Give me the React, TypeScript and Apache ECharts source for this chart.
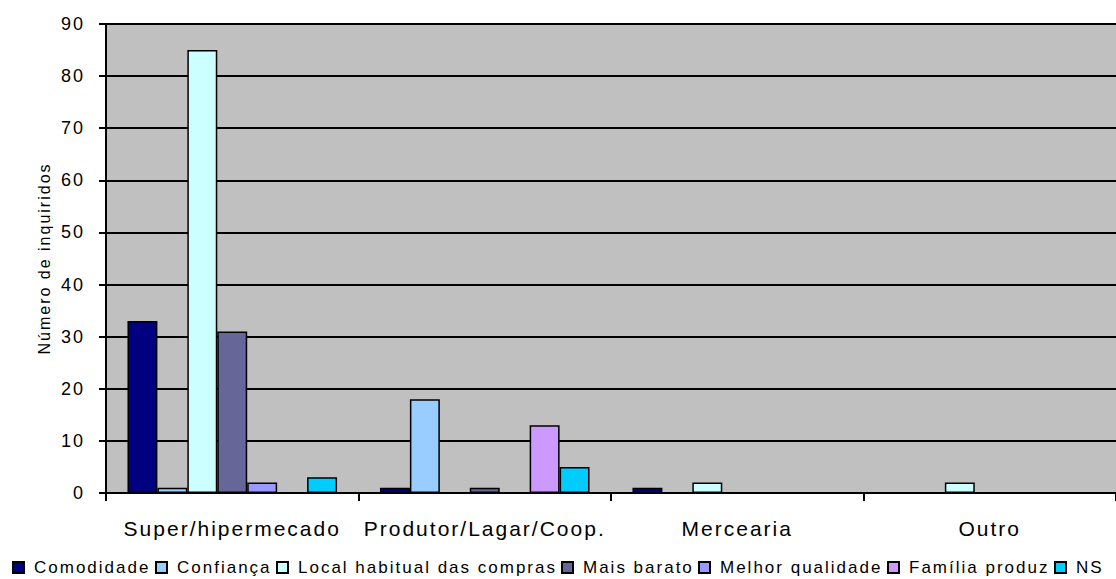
import React, { useEffect, useRef } from "react";
import * as echarts from "echarts";

const categories = ["Super/hipermecado", "Produtor/Lagar/Coop.", "Mercearia", "Outro"];
const seriesNames = ["Comodidade", "Confiança", "Local habitual das compras", "Mais barato", "Melhor qualidade", "Família produz", "NS"];
const comodidade = [33, 1, 1, 0];
const confianca = [1, 18, 0, 0];
const localHabitual = [85, 0, 2, 2];
const maisBarato = [31, 1, 0, 0];
const melhorQualidade = [2, 0, 0, 0];
const familiaProduz = [0, 13, 0, 0];
const ns = [3, 5, 0, 0];
const yTicks = [0, 10, 20, 30, 40, 50, 60, 70, 80, 90];

const seriesData = [comodidade, confianca, localHabitual, maisBarato, melhorQualidade, familiaProduz, ns];
const colors = ["#000080", "#99CCFF", "#CCFFFF", "#666699", "#9999FF", "#CC99FF", "#00CCFF"];

const LETTER_SPACING = 2;
const LEGEND_FONT_SIZE = 17;
const FONT = "'Liberation Sans', Arial, sans-serif";

function measure(text: string, size: number): number {
  const c = document.createElement("canvas").getContext("2d");
  if (!c) return text.length * size * 0.5;
  c.font = `${size}px ${FONT}`;
  return c.measureText(text).width;
}

export default function App() {
  const ref = useRef<HTMLDivElement>(null);
  useEffect(() => {
    if (!ref.current) return;
    const chart = echarts.init(ref.current, undefined, { renderer: "svg" });
    const rich: Record<string, any> = {};
    seriesNames.forEach((name, i) => {
      rich["s" + i] = {
        width: Math.ceil(measure(name, LEGEND_FONT_SIZE) + LETTER_SPACING * name.length),
        fontSize: LEGEND_FONT_SIZE,
        lineHeight: 18,
        fontFamily: FONT,
        color: "#000",
        padding: [0, 0, 0, 5],
      };
    });
    chart.setOption({
      animation: false,
      textStyle: { fontFamily: FONT },
      grid: {
        left: 106,
        right: 0,
        top: 24,
        bottom: 86,
        show: true,
        backgroundColor: "#C0C0C0",
        borderWidth: 0,
      },
      legend: {
        top: 559,
        left: 12,
        padding: 0,
        itemWidth: 11,
        itemHeight: 11,
        itemGap: 4,
        icon: "rect",
        formatter: (name: string) => `{s${seriesNames.indexOf(name)}|${name}}`,
        textStyle: { fontSize: LEGEND_FONT_SIZE, color: "#000", fontFamily: FONT, rich },
        data: seriesNames,
      },
      xAxis: {
        type: "category",
        data: categories,
        axisLine: { lineStyle: { color: "#000", width: 2 } },
        axisTick: { show: true, length: 8, lineStyle: { color: "#000", width: 2 } },
        axisLabel: { interval: 0, fontSize: 21, color: "#000", margin: 25, fontFamily: FONT },
      },
      yAxis: {
        type: "value",
        min: yTicks[0],
        max: yTicks[yTicks.length - 1],
        interval: 10,
        name: "Número de inquiridos",
        nameLocation: "middle",
        nameGap: 54,
        nameTextStyle: { fontSize: 16, color: "#000", fontFamily: FONT },
        axisLine: { show: true, lineStyle: { color: "#000", width: 2 } },
        axisTick: { show: true, length: 7, lineStyle: { color: "#000", width: 2 } },
        axisLabel: { fontSize: 18, color: "#000", margin: 21, fontFamily: FONT },
        splitLine: { show: true, lineStyle: { color: "#000", width: 2 } },
      },
      series: seriesNames.map((name, i) => ({
        name,
        type: "bar",
        data: seriesData[i],
        barGap: "0%",
        barCategoryGap: "17%",
        itemStyle: { color: colors[i], borderColor: "#000", borderWidth: 1.5 },
      })),
    });
    return () => chart.dispose();
  }, []);
  return (
    <>
      <style>{`#chart-root text { letter-spacing: ${LETTER_SPACING}px; }`}</style>
      <div
        id="chart-root"
        ref={ref}
        style={{ position: "fixed", left: 0, top: 0, width: 1116, height: 579, background: "#fff" }}
      />
    </>
  );
}
